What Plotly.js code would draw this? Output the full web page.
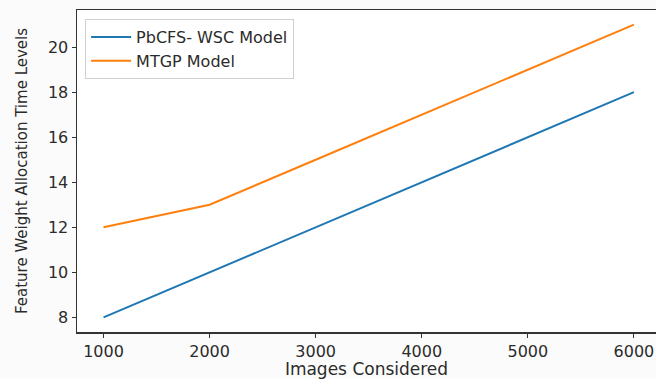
<!DOCTYPE html>
<html>
<head>
<meta charset="utf-8">
<script src="https://cdn.plot.ly/plotly-3.0.1.min.js"></script>
<style>html,body{margin:0;padding:0;background:#fbfbfb;}</style>
</head>
<body>
<div id="chart" style="width:656px;height:379px;"></div>
<script>
const imagesConsidered = [1000, 2000, 3000, 4000, 5000, 6000];
const pbcfsWsc = [8, 10, 12, 14, 16, 18];
const mtgp = [12, 13, 15, 17, 19, 21];
const seriesNames = ["PbCFS- WSC Model", "MTGP Model"];
const xTicks = [1000, 2000, 3000, 4000, 5000, 6000];
const yTicks = [8, 10, 12, 14, 16, 18, 20];

const txt = "#2b2b2b";

const traces = [
  {x: imagesConsidered, y: pbcfsWsc, name: seriesNames[0], mode: "lines",
   line: {color: "#1f77b4", width: 2}},
  {x: imagesConsidered, y: mtgp, name: seriesNames[1], mode: "lines",
   line: {color: "#ff7f0e", width: 2}}
];

const layout = {
  width: 656, height: 379,
  paper_bgcolor: "#fbfbfb", plot_bgcolor: "#ffffff",
  margin: {l: 77, r: 0, t: 10, b: 47, pad: 0},
  font: {family: "DejaVu Sans", size: 16, color: txt},
  showlegend: true,
  legend: {x: 0.014, y: 0.972, xanchor: "left", yanchor: "top",
    bgcolor: "#ffffff", bordercolor: "#d0d0d0", borderwidth: 1,
    font: {family: "DejaVu Sans", size: 16, color: txt},
    tracegroupgap: 0, itemwidth: 40},
  xaxis: {range: [750, 6208], tickvals: xTicks, ticktext: xTicks.map(String),
    showgrid: false, zeroline: false, showline: true, linecolor: "#333333", linewidth: 1.5,
    mirror: true, ticks: "outside", ticklen: 4, tickwidth: 1, tickcolor: "#333333",
    tickfont: {family: "DejaVu Sans", size: 16, color: txt},
    title: {text: "Images Considered", standoff: 2,
      font: {family: "DejaVu Sans", size: 17, color: txt}}},
  yaxis: {range: [7.35, 21.65], tickvals: yTicks, ticktext: yTicks.map(String),
    showgrid: false, zeroline: false, showline: true, linecolor: "#333333", linewidth: 1.5,
    mirror: false, ticks: "outside", ticklen: 4, tickwidth: 1, tickcolor: "#333333",
    tickfont: {family: "DejaVu Sans", size: 16, color: txt},
    title: {text: "Feature Weight Allocation Time Levels", standoff: 16,
      font: {family: "DejaVu Sans", size: 15, color: txt}}}
};

Plotly.newPlot("chart", traces, layout, {displayModeBar: false, staticPlot: true});
</script>
</body>
</html>
